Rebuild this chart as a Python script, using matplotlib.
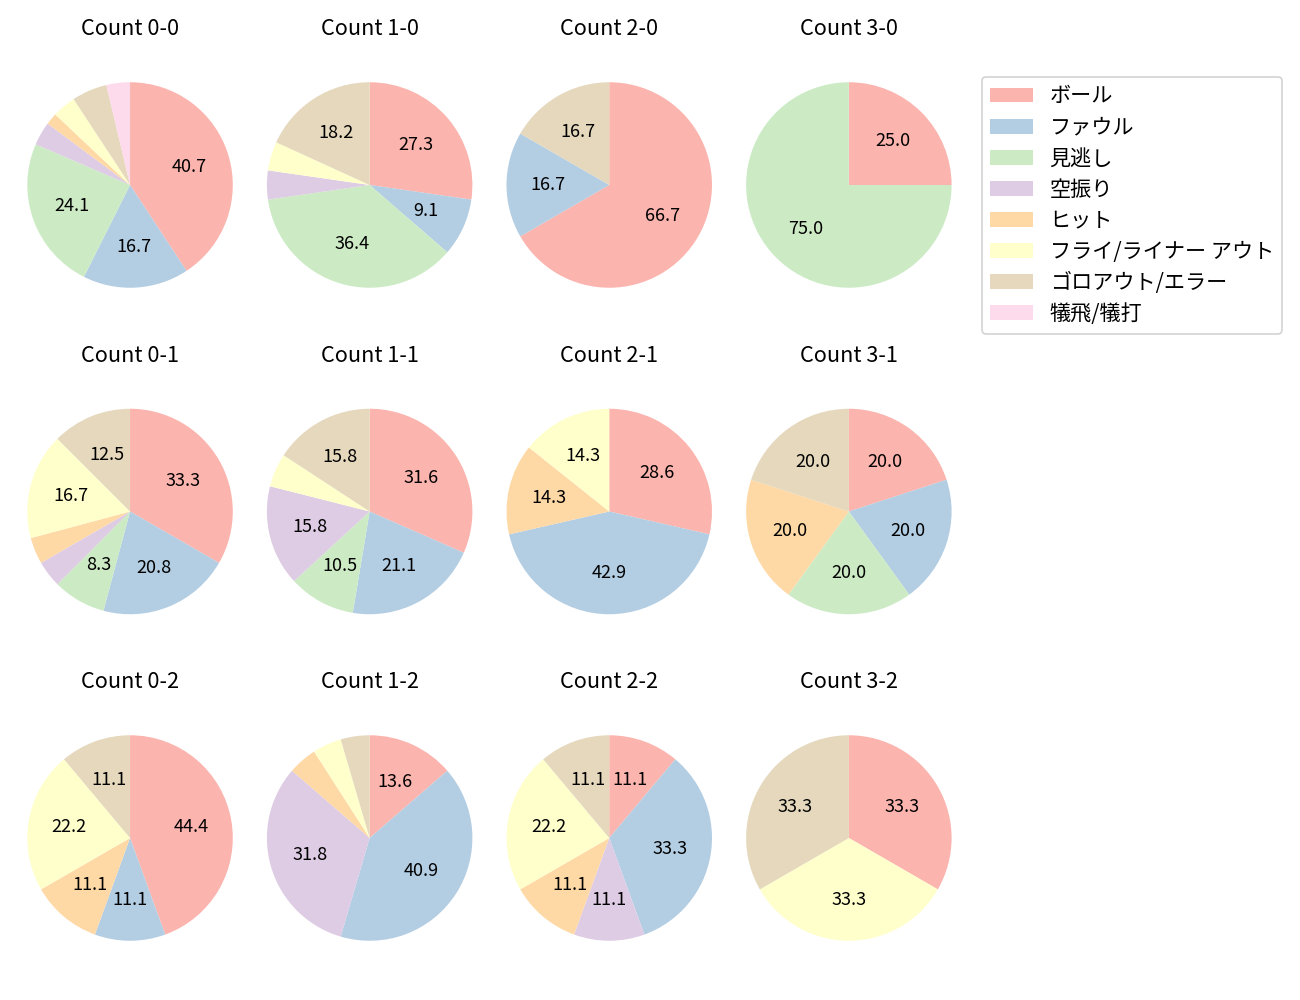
import matplotlib
matplotlib.use('Agg')
import matplotlib.pyplot as plt

plt.rcParams['font.family'] = ['Noto Sans CJK JP', 'DejaVu Sans']

categories = ['ボール', 'ファウル', '見逃し', '空振り', 'ヒット',
              'フライ/ライナー アウト', 'ゴロアウト/エラー', '犠飛/犠打']

# pitch counts per ball-strike count, in category order
c_0_0 = [22, 9, 13, 2, 1, 2, 3, 2]
c_1_0 = [6, 2, 8, 1, 0, 1, 4, 0]
c_2_0 = [4, 1, 0, 0, 0, 0, 1, 0]
c_3_0 = [1, 0, 3, 0, 0, 0, 0, 0]
c_0_1 = [8, 5, 2, 1, 1, 4, 3, 0]
c_1_1 = [6, 4, 2, 3, 0, 1, 3, 0]
c_2_1 = [2, 3, 0, 0, 1, 1, 0, 0]
c_3_1 = [1, 1, 1, 0, 1, 0, 1, 0]
c_0_2 = [4, 1, 0, 0, 1, 2, 1, 0]
c_1_2 = [3, 9, 0, 7, 1, 1, 1, 0]
c_2_2 = [1, 3, 0, 1, 1, 2, 1, 0]
c_3_2 = [1, 0, 0, 0, 0, 1, 1, 0]

grid = [[('Count 0-0', c_0_0), ('Count 1-0', c_1_0), ('Count 2-0', c_2_0), ('Count 3-0', c_3_0)],
        [('Count 0-1', c_0_1), ('Count 1-1', c_1_1), ('Count 2-1', c_2_1), ('Count 3-1', c_3_1)],
        [('Count 0-2', c_0_2), ('Count 1-2', c_1_2), ('Count 2-2', c_2_2), ('Count 3-2', c_3_2)]]

colors = list(plt.cm.Pastel1.colors[:8])

fig, axes = plt.subplots(3, 4, figsize=(10, 1000 / 130))
fig.subplots_adjust(left=0.0131, right=0.7399, bottom=0.023, top=0.954,
                    wspace=0.06, hspace=0.1745)

handles = None
for r, row in enumerate(grid):
    for c, (title, vals) in enumerate(row):
        ax = axes[r, c]
        wedges, _, _ = ax.pie(vals, colors=colors, startangle=90, counterclock=False,
                              autopct=lambda p: f'{p:.1f}' if p >= 7 else '',
                              textprops={'fontsize': 10})
        ax.axis('equal')
        ax.set_title(title, fontsize=12)
        if handles is None:
            handles = wedges

fig.legend(handles, categories, loc='upper left', bbox_to_anchor=(0.7554, 0.923),
           borderaxespad=0, fontsize=11.7, labelspacing=0.43)
fig.savefig('out.png', dpi=130)
